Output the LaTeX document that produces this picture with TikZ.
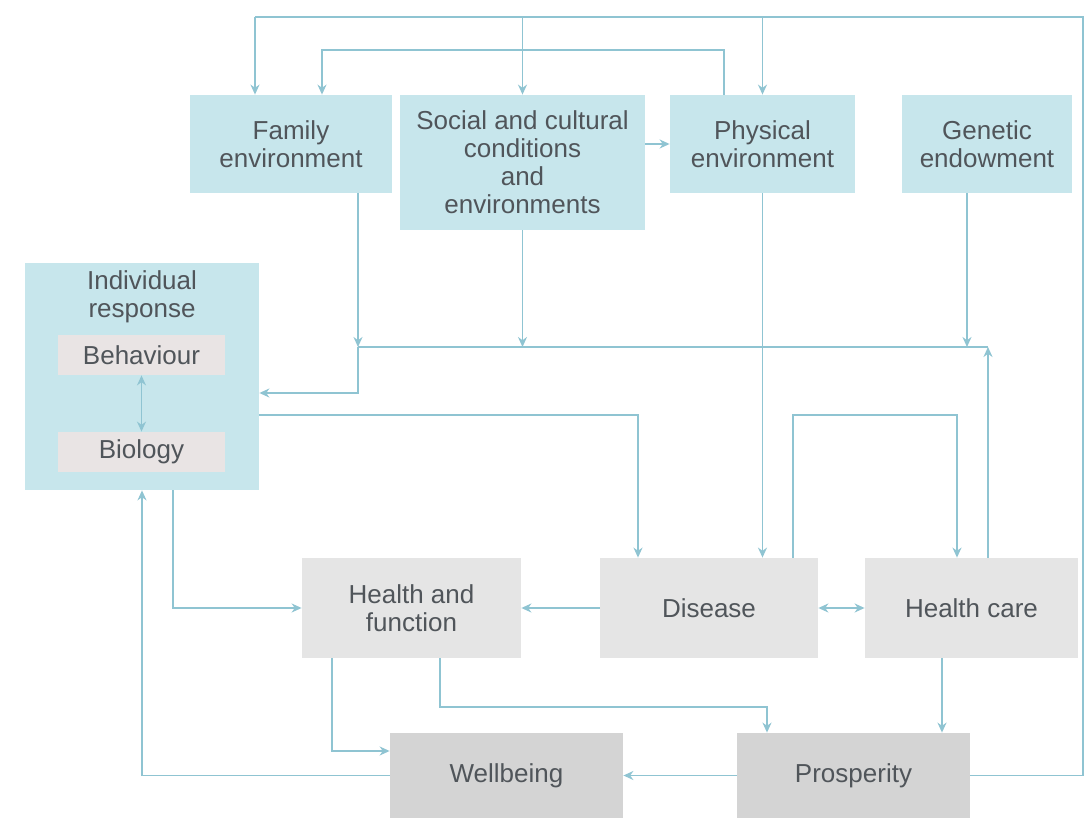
\documentclass[tikz,border=0pt]{standalone}
\usepackage{fontspec}
\setmainfont{Liberation Sans}
\usetikzlibrary{arrows.meta}
\definecolor{boxblue}{RGB}{199,230,236}
\definecolor{boxgray}{RGB}{229,229,229}
\definecolor{boxdark}{RGB}{212,212,212}
\definecolor{boxpale}{RGB}{233,228,228}
\definecolor{linkblue}{RGB}{143,196,210}
\definecolor{txtgray}{RGB}{80,85,90}
\begin{document}
\begin{tikzpicture}[x=0.5pt, y=-0.5pt,
    box/.style={inner sep=0pt, align=center, text=txtgray,
        font=\fontsize{13}{14}\selectfont},
    bluebox/.style={box, fill=boxblue},
    graybox/.style={box, fill=boxgray},
    darkbox/.style={box, fill=boxdark},
    palebox/.style={box, fill=boxpale, minimum width=83.5pt, minimum height=20pt},
    link/.style={draw=linkblue, line width=0.8pt},
    >={Stealth[length=5pt, width=4.5pt]}]
    \useasboundingbox[fill=white] (0,0) rectangle (1084,818);
    % determinants
    \node[bluebox, minimum width=101pt, minimum height=49pt] (fam) at (291,144) {Family\\environment};
    \node[bluebox, minimum width=122.5pt, minimum height=67.5pt] (soc) at (522.5,162.5) {Social and cultural\\conditions\\and\\environments};
    \node[bluebox, minimum width=92.5pt, minimum height=49pt] (phys) at (762.5,144) {Physical\\environment};
    \node[bluebox, minimum width=85pt, minimum height=49pt] (gen) at (987,144) {Genetic\\endowment};
    % individual response
    \node[bluebox, minimum width=117pt, minimum height=113.5pt] (ind) at (142,376.5) {};
    \node[box] (indlbl) at (142,297) {Individual\\response};
    \node[palebox] (beh) at (141.5,355) {Behaviour};
    \node[palebox] (bio) at (141.5,452) {Biology};
    % outcomes
    \node[graybox, minimum width=109.5pt, minimum height=50pt] (hf) at (411.5,608) {Health and\\function};
    \node[graybox, minimum width=109pt, minimum height=50pt] (dis) at (709,608) {Disease};
    \node[graybox, minimum width=106.5pt, minimum height=50pt] (hc) at (971.5,608) {Health care};
    \node[darkbox, minimum width=116.5pt, minimum height=42.5pt] (wb) at (506.5,775.5) {Wellbeing};
    \node[darkbox, minimum width=116.5pt, minimum height=42.5pt] (pro) at (853.5,775.5) {Prosperity};
    % bends
    \coordinate (topR) at (1083,17);
    \coordinate (famTop) at (255,17);
    \coordinate (pfL) at (322,50);
    \coordinate (pfR) at (724,50);
    \coordinate (busL) at (358,347);
    \coordinate (busR) at (988,347);
    \coordinate (genB) at (967,347);
    \coordinate (indIn) at (358,393);
    \coordinate (idc) at (638,415);
    \coordinate (dhL) at (793,415);
    \coordinate (dhR) at (957,415);
    \coordinate (ihf) at (173,608);
    \coordinate (hfw) at (332,751);
    \coordinate (hpL) at (440,707);
    \coordinate (hpR) at (767,707);
    \coordinate (hcp) at (942,728);
    % feedback from prosperity over the top
    \draw[link] (pro.east) -- (pro.east -| topR) -- (topR) -- (famTop);
    \draw[link,->] (famTop) -- (famTop |- fam.north);
    \draw[link,->] (soc.north |- topR) -- (soc.north);
    \draw[link,->] (phys.north |- topR) -- (phys.north);
    \draw[link,->] (pfR |- phys.north) -- (pfR) -- (pfL) -- (pfL |- fam.north);
    \draw[link,->] (soc.east |- phys.west) -- (phys.west);
    % into the bus
    \draw[link,->] (fam.south -| busL) -- (busL);
    \draw[link,->] (busL) -- (indIn) -- (indIn -| ind.east);
    \draw[link] (busL) -- (busR);
    \draw[link,->] (soc.south) -- (soc.south |- busL);
    \draw[link,->] (gen.south -| genB) -- (genB);
    \draw[link,->] (hc.north -| busR) -- (busR);
    \draw[link,->] (phys.south) -- (phys.south |- dis.north);
    % individual, disease, care
    \draw[link,<->] (beh.south) -- (bio.north);
    \draw[link,->] (ind.east |- idc) -- (idc) -- (idc |- dis.north);
    \draw[link,->] (dis.north -| dhL) -- (dhL) -- (dhR) -- (dhR |- hc.north);
    \draw[link,<->] (dis.east) -- (hc.west);
    \draw[link,->] (dis.west) -- (hf.east);
    \draw[link,->] (ind.south -| ihf) |- (hf.west);
    % wellbeing and prosperity
    \draw[link,->] (wb.west) -| (ind.south);
    \draw[link,->] (hf.south -| hfw) -- (hfw) -- (hfw -| wb.west);
    \draw[link,->] (hf.south -| hpL) -- (hpL) -- (hpR) -- (hpR |- pro.north);
    \draw[link,->] (hc.south -| hcp) -- (hcp |- pro.north);
    \draw[link,->] (pro.west) -- (wb.east);
\end{tikzpicture}
\end{document}
